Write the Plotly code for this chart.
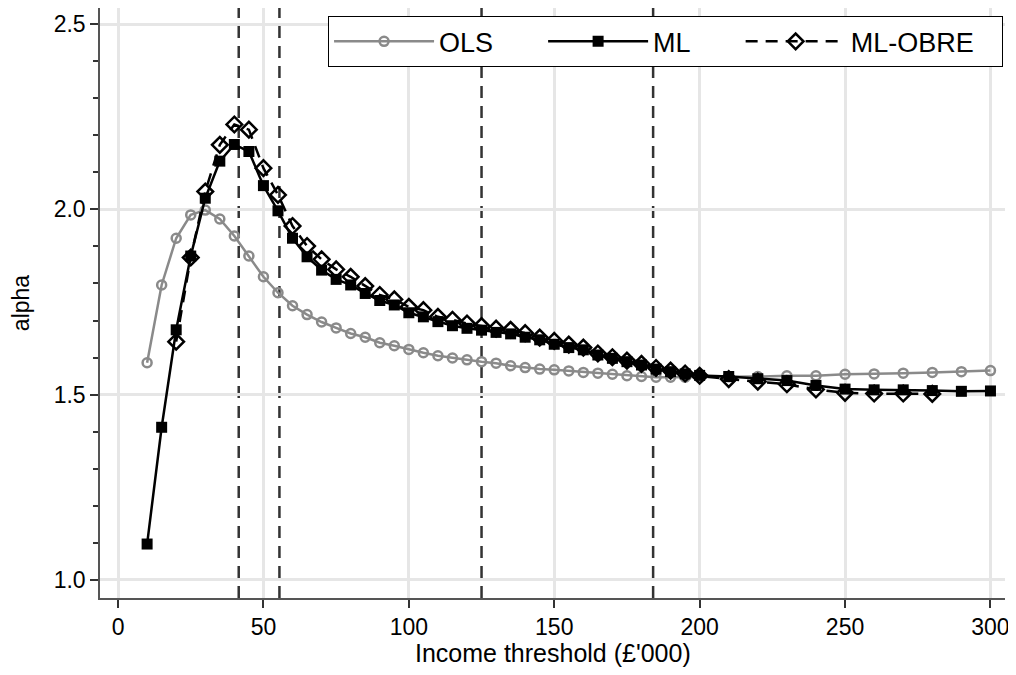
import plotly.graph_objects as go

x_main = list(range(10, 201, 5)) + list(range(210, 301, 10))
x_obre = list(range(20, 201, 5)) + list(range(210, 281, 10))

ols = [1.586, 1.796, 1.922, 1.985, 1.998, 1.974, 1.928, 1.874, 1.818, 1.775,
       1.740, 1.716, 1.696, 1.680, 1.665, 1.655, 1.640, 1.632, 1.622, 1.613,
       1.605, 1.599, 1.594, 1.589, 1.585, 1.578, 1.573, 1.569, 1.567, 1.564,
       1.560, 1.558, 1.555, 1.551, 1.549, 1.547, 1.547, 1.547, 1.547,
       1.548, 1.549, 1.551, 1.551, 1.555, 1.556, 1.558, 1.560, 1.562, 1.565]

ml = [1.097, 1.412, 1.675, 1.874, 2.030, 2.130, 2.175, 2.156, 2.064, 1.996,
      1.922, 1.872, 1.836, 1.811, 1.796, 1.773, 1.754, 1.742, 1.721, 1.710,
      1.697, 1.686, 1.679, 1.674, 1.668, 1.664, 1.655, 1.648, 1.636, 1.627,
      1.621, 1.607, 1.598, 1.589, 1.580, 1.569, 1.562, 1.556, 1.552,
      1.549, 1.543, 1.538, 1.525, 1.515, 1.513, 1.513, 1.511, 1.509, 1.510]

ml_obre = [1.643, 1.870, 2.048, 2.174, 2.229, 2.215, 2.111, 2.039, 1.955, 1.901,
           1.865, 1.838, 1.818, 1.793, 1.769, 1.757, 1.737, 1.728, 1.710, 1.702,
           1.692, 1.685, 1.678, 1.675, 1.666, 1.654, 1.645, 1.635, 1.627, 1.611,
           1.601, 1.592, 1.583, 1.572, 1.565, 1.557, 1.551,
           1.542, 1.535, 1.528, 1.514, 1.505, 1.503, 1.503, 1.502]

series_names = ["OLS", "ML", "ML-OBRE"]
vlines = [41.5, 55.5, 125, 184]
x_ticks = [0, 50, 100, 150, 200, 250, 300]
y_ticks = [1.0, 1.5, 2.0, 2.5]
x_title = "Income threshold (£'000)"
y_title = "alpha"

FONT = "Liberation Sans, Arial, sans-serif"
GRAY = "#8a8a8a"
PAD = "\u00a0" * 6
END_PAD = "\u00a0" * 3

fig = go.Figure()
fig.add_trace(go.Scatter(
    x=x_main, y=ols, name=series_names[0] + PAD, mode="lines+markers",
    line=dict(color=GRAY, width=2.5),
    marker=dict(symbol="circle-open", size=9, color=GRAY, line=dict(width=2.5, color=GRAY)),
))
fig.add_trace(go.Scatter(
    x=x_main, y=ml, name=series_names[1] + PAD, mode="lines+markers",
    line=dict(color="black", width=2.5),
    marker=dict(symbol="square", size=11, color="black"),
))
fig.add_trace(go.Scatter(
    x=x_obre, y=ml_obre, name=series_names[2] + END_PAD, mode="lines+markers",
    line=dict(color="black", width=2.5, dash="12px,8px"),
    marker=dict(symbol="diamond-open", size=12, color="black", line=dict(width=2.5, color="black")),
))

for v in vlines:
    fig.add_shape(type="line", xref="x", yref="paper", x0=v, x1=v, y0=0, y1=1,
                  line=dict(color="#333333", width=2.5, dash="12px,8px"), layer="between")

fig.add_annotation(text=x_title, xref="paper", yref="paper", x=0.5006, y=-0.0932,
                   xanchor="center", yanchor="middle", showarrow=False,
                   font=dict(family=FONT, size=25, color="black"))

fig.update_layout(
    width=1008, height=667,
    margin=dict(l=92, r=11, t=0, b=77, autoexpand=False),
    paper_bgcolor="white", plot_bgcolor="white",
    font=dict(family=FONT, size=23, color="black"),
    showlegend=True,
    legend=dict(
        orientation="h", x=0.252, y=0.986, xanchor="left", yanchor="top",
        bgcolor="white", bordercolor="black", borderwidth=1,
        font=dict(family=FONT, size=27, color="black"),
        itemwidth=100,
    ),
    xaxis=dict(
        range=[-6.2, 305], tickmode="array", tickvals=x_ticks,
        ticks="outside", ticklen=8, tickcolor="#333333", tickwidth=1.5,
        showline=True, linecolor="#555555", linewidth=1.5,
        showgrid=True, gridcolor="#e6e6e6", gridwidth=3, zeroline=False,
        tickfont=dict(size=23), automargin=False,
    ),
    yaxis=dict(
        range=[0.9514, 2.5432], tickmode="array", tickvals=y_ticks,
        ticktext=["1.0", "1.5", "2.0", "2.5"],
        ticks="outside", ticklen=8, tickcolor="#333333", tickwidth=1.5,
        minor=dict(dtick=0.1, ticks="outside", ticklen=5, tickcolor="#333333", showgrid=False),
        showline=True, linecolor="#555555", linewidth=1.5,
        showgrid=True, gridcolor="#e6e6e6", gridwidth=3, zeroline=False,
        title=dict(text=y_title, standoff=20, font=dict(size=23)),
        tickfont=dict(size=23), automargin=False,
    ),
)

fig.write_html("out.html")
